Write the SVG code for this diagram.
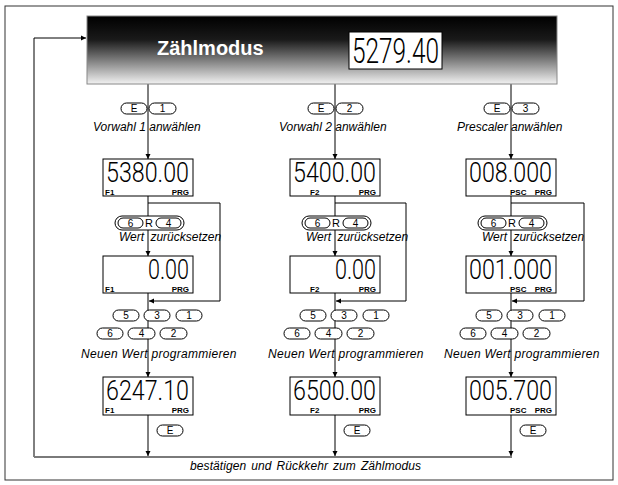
<svg xmlns="http://www.w3.org/2000/svg" width="618" height="485" viewBox="0 0 618 485">
<defs>
<linearGradient id="hg" x1="0" y1="0" x2="0" y2="1">
<stop offset="0" stop-color="#000"/>
<stop offset="0.35" stop-color="#1a1a1a"/>
<stop offset="1" stop-color="#f2f2f2"/>
</linearGradient>
<marker id="ar" markerWidth="6" markerHeight="6" refX="5" refY="3" orient="auto" markerUnits="userSpaceOnUse">
<path d="M0,0.5 L5,3 L0,5.5 Z" fill="#000"/>
</marker>
<style>
.ln{fill:none;stroke:#000;stroke-width:1}
.bl{fill:none;stroke:#7a7a7a;stroke-width:2}
.lbl{font-family:"Liberation Sans",Arial,sans-serif;font-style:italic;font-size:12px;fill:#000}
.key{fill:#fff;stroke:#000;stroke-width:1}
.kt{font-family:"Liberation Sans",Arial,sans-serif;font-size:10px;text-anchor:middle;fill:#000}
.disp{fill:#fff;stroke:#000;stroke-width:1}
.dig{font-family:Roboto,"Liberation Sans",Arial,sans-serif;font-weight:300;font-size:27px;fill:#000}
.tag{font-family:"Liberation Sans",Arial,sans-serif;font-weight:bold;font-size:8px;fill:#000}
.tagr{font-family:"Liberation Sans",Arial,sans-serif;font-weight:bold;font-size:8px;fill:#000;text-anchor:end}
</style>
</defs>
<rect x="5" y="6" width="608" height="474" fill="#fff" stroke="#333" stroke-width="1"/>

<g id="connectors">
<polyline class="ln" points="34,457 34,38 86,38" marker-end="url(#ar)"/>
<line class="bl" x1="34" y1="457" x2="512" y2="457"/>
<line class="ln" x1="148" y1="84" x2="148" y2="159" marker-end="url(#ar)"/>
<line class="ln" x1="148" y1="196" x2="148" y2="256" marker-end="url(#ar)"/>
<polyline class="ln" points="148,203 220,203 220,301 149,301" marker-end="url(#ar)"/>
<line class="ln" x1="148" y1="293" x2="148" y2="377" marker-end="url(#ar)"/>
<line class="ln" x1="148" y1="415" x2="148" y2="456" marker-end="url(#ar)"/>
<line class="ln" x1="335" y1="84" x2="335" y2="159" marker-end="url(#ar)"/>
<line class="ln" x1="335" y1="196" x2="335" y2="256" marker-end="url(#ar)"/>
<polyline class="ln" points="335,203 406,203 406,301 336,301" marker-end="url(#ar)"/>
<line class="ln" x1="335" y1="293" x2="335" y2="377" marker-end="url(#ar)"/>
<line class="ln" x1="335" y1="415" x2="335" y2="456" marker-end="url(#ar)"/>
<line class="ln" x1="511" y1="84" x2="511" y2="159" marker-end="url(#ar)"/>
<line class="ln" x1="511" y1="196" x2="511" y2="256" marker-end="url(#ar)"/>
<polyline class="ln" points="511,203 584,203 584,301 512,301" marker-end="url(#ar)"/>
<line class="ln" x1="511" y1="293" x2="511" y2="377" marker-end="url(#ar)"/>
<line class="ln" x1="511" y1="415" x2="511" y2="456" marker-end="url(#ar)"/>
</g>

<g id="header">
<rect x="87" y="16" width="470" height="68" fill="url(#hg)" stroke="#888" stroke-width="1"/>
<text x="157" y="55" font-family="Liberation Sans,Arial,sans-serif" font-weight="bold" font-size="20" fill="#fff">Zählmodus</text>
<rect class="disp" x="349" y="32" width="93" height="37"/>
<text class="dig" x="352" y="63" textLength="87" lengthAdjust="spacingAndGlyphs" style="font-size:35px">5279.40</text>
</g>

<!-- column 1 -->
<g id="keys-e1">
<rect class="key" x="121" y="103" width="26" height="11" rx="5.5"/><text class="kt" x="134" y="112">E</text>
<rect class="key" x="149" y="103" width="27" height="11" rx="5.5"/><text class="kt" x="162.5" y="112">1</text>
</g>
<text class="lbl" x="93" y="131">Vorwahl 1 anwählen</text>
<g id="disp-f1-a">
<rect class="disp" x="103" y="159" width="90" height="37"/>
<text class="dig" x="106" y="181.5" textLength="83" lengthAdjust="spacingAndGlyphs">5380.00</text>
<text class="tag" x="105" y="194.5">F1</text><text class="tagr" x="189" y="194.5">PRG</text>
</g>
<g id="keys-r1">
<rect class="key" x="115" y="216" width="69" height="14" rx="7"/>
<rect class="key" x="118" y="218" width="25" height="10" rx="5"/><text class="kt" x="130.5" y="226.5">6</text>
<text class="kt" x="149" y="227" style="font-size:11px">R</text>
<rect class="key" x="156" y="218" width="25" height="10" rx="5"/><text class="kt" x="168.5" y="226.5">4</text>
</g>
<text class="lbl" x="119" y="241" word-spacing="3">Wert zurücksetzen</text>
<g id="disp-f1-b">
<rect class="disp" x="103" y="256" width="90" height="37"/>
<text class="dig" x="148" y="278.5" textLength="41" lengthAdjust="spacingAndGlyphs">0.00</text>
<text class="tag" x="105" y="291.5">F1</text><text class="tagr" x="189" y="291.5">PRG</text>
</g>
<g id="keys-p1">
<rect class="key" x="113" y="310" width="26" height="11" rx="5.5"/><text class="kt" x="126" y="319">5</text>
<rect class="key" x="144" y="310" width="26" height="11" rx="5.5"/><text class="kt" x="157" y="319">3</text>
<rect class="key" x="176" y="310" width="26" height="11" rx="5.5"/><text class="kt" x="189" y="319">1</text>
<rect class="key" x="97" y="328" width="26" height="11" rx="5.5"/><text class="kt" x="110" y="337">6</text>
<rect class="key" x="128" y="328" width="27" height="11" rx="5.5"/><text class="kt" x="141.5" y="337">4</text>
<rect class="key" x="160" y="328" width="27" height="11" rx="5.5"/><text class="kt" x="173.5" y="337">2</text>
</g>
<text class="lbl" x="81" y="358" letter-spacing="0.3">Neuen Wert programmieren</text>
<g id="disp-f1-c">
<rect class="disp" x="103" y="377" width="90" height="38"/>
<text class="dig" x="106" y="399.5" textLength="83" lengthAdjust="spacingAndGlyphs">6247.10</text>
<text class="tag" x="105" y="412.5">F1</text><text class="tagr" x="189" y="412.5">PRG</text>
</g>
<g id="key-e1b"><rect class="key" x="157" y="425" width="26" height="11" rx="5.5"/><text class="kt" x="170" y="434">E</text></g>

<!-- column 2 -->
<g id="keys-e2">
<rect class="key" x="308" y="103" width="26" height="11" rx="5.5"/><text class="kt" x="321" y="112">E</text>
<rect class="key" x="336" y="103" width="27" height="11" rx="5.5"/><text class="kt" x="349.5" y="112">2</text>
</g>
<text class="lbl" x="279" y="131">Vorwahl 2 anwählen</text>
<g id="disp-f2-a">
<rect class="disp" x="290" y="159" width="90" height="37"/>
<text class="dig" x="293" y="181.5" textLength="83" lengthAdjust="spacingAndGlyphs">5400.00</text>
<text class="tag" x="310" y="194.5">F2</text><text class="tagr" x="376" y="194.5">PRG</text>
</g>
<g id="keys-r2">
<rect class="key" x="302" y="216" width="69" height="14" rx="7"/>
<rect class="key" x="305" y="218" width="25" height="10" rx="5"/><text class="kt" x="317.5" y="226.5">6</text>
<text class="kt" x="336" y="227" style="font-size:11px">R</text>
<rect class="key" x="343" y="218" width="25" height="10" rx="5"/><text class="kt" x="355.5" y="226.5">4</text>
</g>
<text class="lbl" x="306" y="241" word-spacing="3">Wert zurücksetzen</text>
<g id="disp-f2-b">
<rect class="disp" x="290" y="256" width="90" height="37"/>
<text class="dig" x="335" y="278.5" textLength="41" lengthAdjust="spacingAndGlyphs">0.00</text>
<text class="tag" x="310" y="291.5">F2</text><text class="tagr" x="376" y="291.5">PRG</text>
</g>
<g id="keys-p2">
<rect class="key" x="300" y="310" width="26" height="11" rx="5.5"/><text class="kt" x="313" y="319">5</text>
<rect class="key" x="331" y="310" width="26" height="11" rx="5.5"/><text class="kt" x="344" y="319">3</text>
<rect class="key" x="363" y="310" width="26" height="11" rx="5.5"/><text class="kt" x="376" y="319">1</text>
<rect class="key" x="284" y="328" width="26" height="11" rx="5.5"/><text class="kt" x="297" y="337">6</text>
<rect class="key" x="315" y="328" width="27" height="11" rx="5.5"/><text class="kt" x="328.5" y="337">4</text>
<rect class="key" x="347" y="328" width="27" height="11" rx="5.5"/><text class="kt" x="360.5" y="337">2</text>
</g>
<text class="lbl" x="268" y="358" letter-spacing="0.3">Neuen Wert programmieren</text>
<g id="disp-f2-c">
<rect class="disp" x="290" y="377" width="90" height="38"/>
<text class="dig" x="293" y="399.5" textLength="83" lengthAdjust="spacingAndGlyphs">6500.00</text>
<text class="tag" x="310" y="412.5">F2</text><text class="tagr" x="376" y="412.5">PRG</text>
</g>
<g id="key-e2b"><rect class="key" x="344" y="425" width="26" height="11" rx="5.5"/><text class="kt" x="357" y="434">E</text></g>

<!-- column 3 -->
<g id="keys-e3">
<rect class="key" x="484" y="103" width="26" height="11" rx="5.5"/><text class="kt" x="497" y="112">E</text>
<rect class="key" x="512" y="103" width="27" height="11" rx="5.5"/><text class="kt" x="525.5" y="112">3</text>
</g>
<text class="lbl" x="457" y="131">Prescaler anwählen</text>
<g id="disp-psc-a">
<rect class="disp" x="466" y="159" width="90" height="37"/>
<text class="dig" x="469" y="181.5" textLength="83" lengthAdjust="spacingAndGlyphs">008.000</text>
<text class="tag" x="510" y="194.5">PSC</text><text class="tagr" x="552" y="194.5">PRG</text>
</g>
<g id="keys-r3">
<rect class="key" x="478" y="216" width="69" height="14" rx="7"/>
<rect class="key" x="481" y="218" width="25" height="10" rx="5"/><text class="kt" x="493.5" y="226.5">6</text>
<text class="kt" x="512" y="227" style="font-size:11px">R</text>
<rect class="key" x="519" y="218" width="25" height="10" rx="5"/><text class="kt" x="531.5" y="226.5">4</text>
</g>
<text class="lbl" x="482" y="241" word-spacing="3">Wert zurücksetzen</text>
<g id="disp-psc-b">
<rect class="disp" x="466" y="256" width="90" height="37"/>
<text class="dig" x="469" y="278.5" textLength="83" lengthAdjust="spacingAndGlyphs">001.000</text>
<text class="tag" x="510" y="291.5">PSC</text><text class="tagr" x="552" y="291.5">PRG</text>
</g>
<g id="keys-p3">
<rect class="key" x="476" y="310" width="26" height="11" rx="5.5"/><text class="kt" x="489" y="319">5</text>
<rect class="key" x="507" y="310" width="26" height="11" rx="5.5"/><text class="kt" x="520" y="319">3</text>
<rect class="key" x="539" y="310" width="26" height="11" rx="5.5"/><text class="kt" x="552" y="319">1</text>
<rect class="key" x="460" y="328" width="26" height="11" rx="5.5"/><text class="kt" x="473" y="337">6</text>
<rect class="key" x="491" y="328" width="27" height="11" rx="5.5"/><text class="kt" x="504.5" y="337">4</text>
<rect class="key" x="523" y="328" width="27" height="11" rx="5.5"/><text class="kt" x="536.5" y="337">2</text>
</g>
<text class="lbl" x="444" y="358" letter-spacing="0.3">Neuen Wert programmieren</text>
<g id="disp-psc-c">
<rect class="disp" x="466" y="377" width="90" height="38"/>
<text class="dig" x="469" y="399.5" textLength="83" lengthAdjust="spacingAndGlyphs">005.700</text>
<text class="tag" x="510" y="412.5">PSC</text><text class="tagr" x="552" y="412.5">PRG</text>
</g>
<g id="key-e3b"><rect class="key" x="520" y="425" width="26" height="11" rx="5.5"/><text class="kt" x="533" y="434">E</text></g>

<text class="lbl" x="190" y="470" word-spacing="1.5" letter-spacing="0.1">bestätigen und Rückkehr zum Zählmodus</text>
</svg>
